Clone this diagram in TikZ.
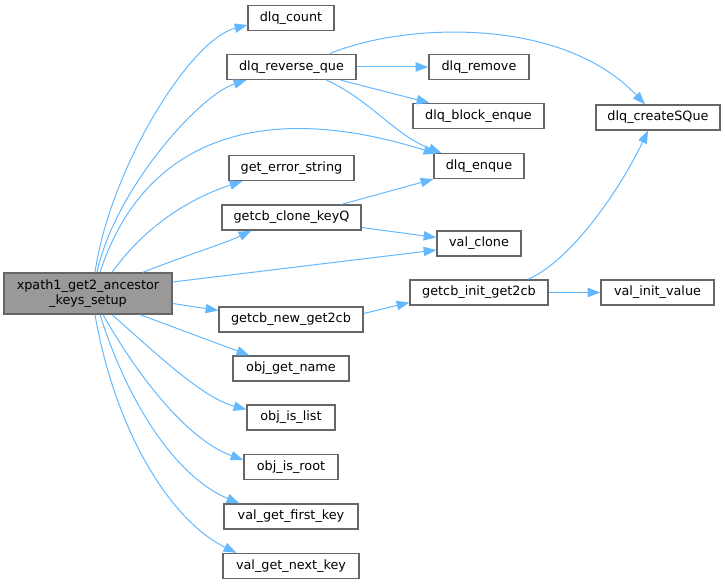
\documentclass[tikz,border=0pt]{standalone}
\usepackage{fontspec}
\setmainfont{DejaVu Sans}
\usepackage{tikz}
\usetikzlibrary{calc, arrows.meta}
\definecolor{callblue}{HTML}{63B8FF}
\definecolor{boxgray}{HTML}{666666}
\definecolor{rootgray}{HTML}{999999}

\begin{document}
\begin{tikzpicture}[x = 0.75pt, y = -0.75pt,
  fn/.style = {draw = boxgray, line width = 1pt, fill = white, inner xsep = 2pt,
    minimum height = 18.75pt, font = \fontsize{9.6}{11.2}\selectfont},
  call/.style = {draw = callblue, line width = 0.75pt,
    -{Triangle[length = 9.5pt, width = 7pt]}}]
\useasboundingbox (0,0) rectangle (725,584);

% caller
\node[fn, fill = rootgray, align = center, minimum width = 126pt, minimum height = 30.75pt]
  (main) at (88,293.5) {xpath1\_get2\_ancestor\\\_keys\_setup};

% first column
\node[fn, minimum width = 64.5pt]  (cnt) at (291,18)    {dlq\_count};
\node[fn, minimum width = 96.75pt] (rev) at (291.5,67)  {dlq\_reverse\_que};
\node[fn, minimum width = 93.75pt] (err) at (291.5,168) {get\_error\_string};
\node[fn, minimum width = 104.25pt] (clk) at (291.5,217.5) {getcb\_clone\_keyQ};
\node[fn, minimum width = 108pt]   (new) at (291,319.5) {getcb\_new\_get2cb};
\node[fn, minimum width = 87pt]    (ogn) at (291,368.5) {obj\_get\_name};
\node[fn, minimum width = 66pt]    (oil) at (291,417.5) {obj\_is\_list};
\node[fn, minimum width = 70.5pt]  (oir) at (291,467)   {obj\_is\_root};
\node[fn, minimum width = 100.5pt] (vgf) at (291,516.5) {val\_get\_first\_key};
\node[fn, minimum width = 102pt]   (vgn) at (291,566)   {val\_get\_next\_key};

% second column
\node[fn, minimum width = 75pt]    (rem) at (479,67)    {dlq\_remove};
\node[fn, minimum width = 98.25pt] (blk) at (478.5,116) {dlq\_block\_enque};
\node[fn, minimum width = 67.5pt]  (enq) at (479,166)   {dlq\_enque};
\node[fn, minimum width = 63pt]    (vcl) at (479,243.5) {val\_clone};
\node[fn, minimum width = 103.5pt] (ini) at (479,292.5) {getcb\_init\_get2cb};

% third column
\node[fn, minimum width = 93pt]    (csq) at (658,117.5) {dlq\_createSQue};
\node[fn, minimum width = 84.75pt] (viv) at (657.5,292.5) {val\_init\_value};

% calls from the caller
\draw[call] ($(main.north)+(7,0)$) .. controls +(15,-103) and +(-58,15) .. ($(cnt.west)+(0,7)$);
\draw[call] ($(main.north)+(9,0)$) .. controls +(18,-83) and +(-47,15) .. ($(rev.south west)+(20,0)$);
\draw[call] ($(main.north)+(12,0)$) .. controls +(40,-123) and +(-188,-59) .. ($(enq.north west)+(3,1)$);
\draw[call] ($(main.north)+(24,0)$) .. controls +(38,-53) and +(-43,14) .. ($(err.south west)+(14,0)$);
\draw[call] ($(main.north)+(55,0)$) .. controls +(37,-15) and +(-27,13) .. ($(clk.south west)+(30,0)$);
\draw[call] ($(main.east)+(0,-11.5)$) -- ($(vcl.west)+(0,6.5)$);
\draw[call] ($(main.east)+(0,10)$) -- ($(new.west)+(0,-9)$);
\draw[call] ($(main.south)+(52,0)$) -- ($(ogn.north west)+(17,0)$);
\draw[call] ($(main.south)+(24,0)$) .. controls +(40,35) and +(-45,-12) .. ($(oil.west)+(0,-8)$);
\draw[call] ($(main.south)+(15,0)$) .. controls +(37,65) and +(-55,-20) .. ($(oir.west)+(0,-7)$);
\draw[call] ($(main.south)+(12,0)$) .. controls +(30,95) and +(-60,-25) .. ($(vgf.north west)+(16,0)$);
\draw[call] ($(main.south)+(7,0)$) .. controls +(20,115) and +(-67,-33) .. ($(vgn.north west)+(14,0)$);

% calls further on
\draw[call] (rev) -- (rem);
\draw[call] ($(rev.south east)+(-16,0)$) -- ($(blk.north west)+(17,0)$);
\draw[call] ($(rev.south)+(35,0)$) .. controls +(44,20) and +(-47,-18) .. ($(enq.north west)+(8,0)$);
\draw[call] ($(rev.north)+(38,0)$) .. controls +(70,-30) and +(-85,-90) .. ($(csq.north)+(-13,0)$);
\draw[call] ($(clk.north east)+(-20,0)$) -- (enq.south west);
\draw[call] ($(clk.east)+(0,10)$) -- ($(vcl.west)+(0,-6)$);
\draw[call] ($(new.east)+(0,-6)$) -- ($(ini.west)+(0,10)$);
\draw[call] (ini) -- (viv);
\draw[call] ($(ini.north east)+(-21,0)$) .. controls +(43,-18) and +(-28,59) .. ($(csq.south)+(-10,0)$);

\end{tikzpicture}
\end{document}
